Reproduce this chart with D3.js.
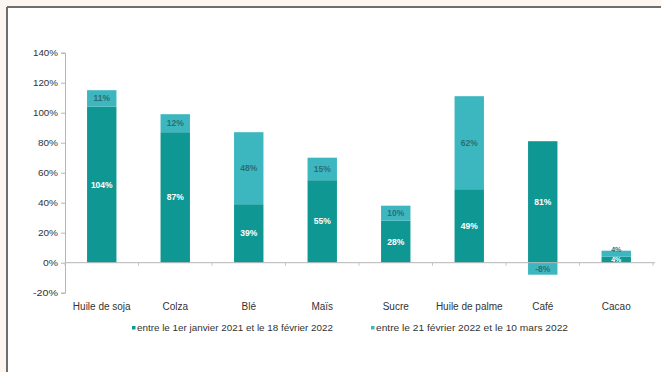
<!DOCTYPE html>
<html>
<head>
<meta charset="utf-8">
<script src="https://cdn.jsdelivr.net/npm/d3@7"></script>
<style>
  body { margin: 0; background: #fdf6f0; }
  svg { display: block; font-family: "Liberation Sans", Arial, sans-serif; }
</style>
</head>
<body>
<svg id="canvas" width="661" height="372"></svg>
<script>
const categories = ["Huile de soja", "Colza", "Blé", "Maïs", "Sucre", "Huile de palme", "Café", "Cacao"];
const beforeWar = [104, 87, 39, 55, 28, 49, 81, 4];
const sinceWar = [11, 12, 48, 15, 10, 62, -8, 4];
const seriesNames = ["entre le 1er janvier 2021 et le 18 février 2022", "entre le 21 février 2022 et le 10 mars 2022"];
const yTicks = [-20, 0, 20, 40, 60, 80, 100, 120, 140];

const darkTeal = "#0f9893";
const lightTeal = "#3db7bf";

const svg = d3.select("#canvas");

// frame
svg.append("rect").attr("x", 7).attr("y", 7).attr("width", 654).attr("height", 365).attr("fill", "#ffffff");
svg.append("line").attr("x1", 7).attr("x2", 661).attr("y1", 7).attr("y2", 7).attr("stroke", "#6e6e6e").attr("stroke-width", 2);
svg.append("line").attr("x1", 7).attr("x2", 7).attr("y1", 7).attr("y2", 372).attr("stroke", "#6e6e6e").attr("stroke-width", 2);

const x = d3.scaleBand().domain(categories).range([65, 653]).paddingInner(0.6).paddingOuter(0.3);
const y = d3.scaleLinear().domain([-20, 140]).range([292.7, 52.7]);

// y axis
const yAxis = svg.append("g").attr("transform", "translate(65,0)")
  .call(d3.axisLeft(y).tickValues(yTicks).tickFormat(d => d + "%").tickSize(4));
yAxis.select(".domain").attr("stroke", "#b5b5b5");
yAxis.selectAll(".tick line").attr("stroke", "#b5b5b5");
yAxis.selectAll("text").attr("fill", "#333").attr("font-size", 9.5).attr("x", -7)
  .attr("textLength", 25).attr("lengthAdjust", "spacingAndGlyphs");
yAxis.selectAll(".tick text").filter(d => Math.abs(d) < 100)
  .attr("textLength", d => d < 0 ? 25 : (d == 0 ? 15 : 20));

// stacked segments
const data = categories.map((c, i) => ({ cat: c, a: beforeWar[i], b: sinceWar[i] }));

const segs = [];
data.forEach(d => {
  segs.push({ cat: d.cat, y0: 0, y1: d.a, v: d.a, s: 0 });
  if (d.b >= 0) segs.push({ cat: d.cat, y0: d.a, y1: d.a + d.b, v: d.b, s: 1 });
  else segs.push({ cat: d.cat, y0: d.b, y1: 0, v: d.b, s: 1 });
});

svg.selectAll("rect.seg").data(segs).enter().append("rect")
  .attr("class", "seg")
  .attr("x", d => x(d.cat))
  .attr("width", x.bandwidth())
  .attr("y", d => y(d.y1))
  .attr("height", d => y(d.y0) - y(d.y1))
  .attr("fill", d => d.s == 0 ? darkTeal : lightTeal);

// thin segments: labels pushed to the segment's outer edge so they stay readable
function labelY(d) {
  const h = y(d.y0) - y(d.y1);
  if (h >= 10) return (y(d.y0) + y(d.y1)) / 2 + 3;
  return d.s == 1 ? y(d.y1) + 1 : y(d.y0) - 1;
}

svg.selectAll("text.val").data(segs).enter().append("text")
  .attr("class", "val")
  .attr("x", d => x(d.cat) + x.bandwidth() / 2)
  .attr("y", labelY)
  .attr("text-anchor", "middle")
  .attr("font-size", d => (y(d.y0) - y(d.y1)) < 10 ? 7 : 8.5)
  .attr("font-weight", "bold")
  .attr("fill", d => d.s == 0 ? "#ffffff" : "#2b6f74")
  .text(d => d.v + "%");

// zero line with category separators
const xAxis = svg.append("g").attr("transform", `translate(0,${y(0)})`)
  .call(d3.axisBottom(x).tickSize(0).tickFormat(""));
xAxis.select(".domain").attr("stroke", "#b5b5b5").attr("d", "M65,0H655");
svg.append("g").selectAll("line").data(d3.range(categories.length + 1)).enter().append("line")
  .attr("x1", i => 65 + i * x.step())
  .attr("x2", i => 65 + i * x.step())
  .attr("y1", y(0)).attr("y2", y(0) + 3)
  .attr("stroke", "#c5c5c5");

svg.selectAll("text.cat").data(categories).enter().append("text")
  .attr("class", "cat")
  .attr("x", d => x(d) + x.bandwidth() / 2)
  .attr("y", 310)
  .attr("text-anchor", "middle")
  .attr("font-size", 10)
  .attr("fill", "#333")
  .text(d => d);

// legend
const legendX = [132, 371];
const legendW = [196, 192];
const legend = svg.selectAll("g.leg").data(seriesNames).enter().append("g")
  .attr("class", "leg")
  .attr("transform", (d, i) => `translate(${legendX[i]},330)`);
legend.append("rect").attr("x", 0).attr("y", -4).attr("width", 3.5).attr("height", 3.5)
  .attr("fill", (d, i) => i == 0 ? darkTeal : lightTeal);
legend.append("text").attr("x", 5).attr("y", 1).attr("font-size", 9.5).attr("fill", "#333")
  .attr("textLength", (d, i) => legendW[i]).attr("lengthAdjust", "spacingAndGlyphs")
  .text(d => d);
</script>
</body>
</html>
